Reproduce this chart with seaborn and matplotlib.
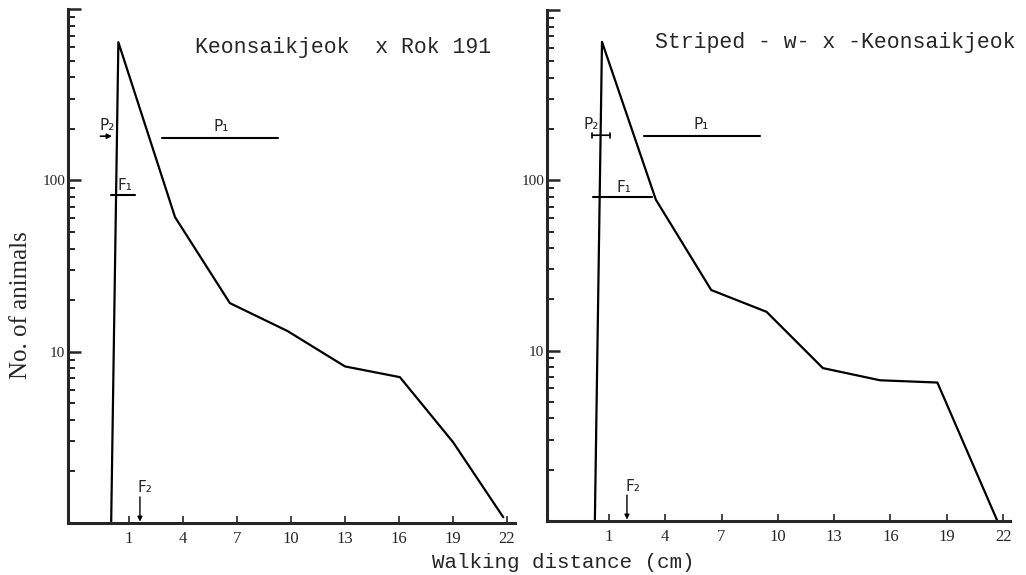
import matplotlib
matplotlib.use("Agg")
import matplotlib.pyplot as plt
import matplotlib.ticker as mticker
import numpy as np
import pandas as pd
import seaborn as sns

# ---- data ----
left_x = [0.0, 0.4, 3.55, 6.6, 9.8, 13.0, 16.05, 19.0, 21.8]
left_y = [1.0, 640, 61, 19.2, 13.2, 8.2, 7.1, 2.97, 1.08]
right_x = [0.25, 0.63, 3.5, 6.45, 9.4, 12.4, 15.45, 18.5, 21.7]
right_y = [1.0, 650, 77, 22.7, 16.9, 7.9, 6.7, 6.5, 1.0]

x_ticks = [1, 4, 7, 10, 13, 16, 19, 22]
y_ticks = [1, 10, 100, 1000]
y_tick_labels = ["", "10", "100", ""]

left_title = "Keonsaikjeok  x Rok 191"
right_title = "Striped - w- x -Keonsaikjeok"

# annotation levels / ranges (x0, x1, y) and label x positions
left_P2 = (-0.6, 0.05, 181)
left_P2_lx = -0.22
left_P1 = (2.85, 9.3, 177)
left_P1_lx = 6.1
left_F1 = (0.0, 1.3, 82)
left_F1_lx = 0.75
left_F2_x = 1.6
right_P2 = (0.1, 1.05, 184)
right_P2_lx = 0.04
right_P1 = (2.87, 9.05, 182)
right_P1_lx = 5.9
right_F1 = (0.15, 3.3, 80)
right_F1_lx = 1.8
right_F2_x = 1.96

sns.set_style("ticks")
plt.rcParams["font.family"] = ["Liberation Serif", "DejaVu Sans"]

fig = plt.figure(figsize=(10.26, 5.75), dpi=100)
W, H = 1026, 575
ax1 = fig.add_axes([68 / W, 1 - 523 / H, 447 / W, 514 / H])
ax2 = fig.add_axes([547 / W, 1 - 521 / H, 463 / W, 511 / H])

mono = ["Liberation Mono", "DejaVu Sans Mono"]
hand = ["DejaVu Sans"]


def setup(ax, xs, ys, xlim, title, tx, ty):
    df = pd.DataFrame({"x": xs, "y": ys})
    sns.lineplot(data=df, x="x", y="y", ax=ax, color="black", lw=1.6,
                 sort=False, estimator=None)
    ax.set_yscale("log")
    ax.set_ylim(1, 1000)
    ax.set_xlim(*xlim)
    ax.set_xlabel("")
    ax.set_ylabel("")
    ax.yaxis.set_major_locator(mticker.FixedLocator(y_ticks))
    ax.yaxis.set_major_formatter(mticker.FixedFormatter(y_tick_labels))
    ax.yaxis.set_minor_locator(mticker.LogLocator(base=10, subs=np.arange(2, 10)))
    ax.yaxis.set_minor_formatter(mticker.NullFormatter())
    ax.set_xticks(x_ticks)
    ax.set_xticklabels([str(v) for v in x_ticks])
    ax.tick_params(axis="y", which="major", direction="in", length=9, width=1.8,
                   labelsize=11, pad=2)
    ax.tick_params(axis="y", which="minor", direction="in", length=5, width=1.4)
    ax.tick_params(axis="x", which="major", direction="in", length=5, width=1.2,
                   labelsize=12, pad=6)
    for s in ["top", "right"]:
        ax.spines[s].set_visible(False)
    for s in ["left", "bottom"]:
        ax.spines[s].set_linewidth(2.2)
    ax.text(tx, ty, title, transform=ax.transAxes, family=mono, fontsize=15.5,
            ha="left", va="center")


setup(ax1, left_x, left_y, (-2.4, 22.45), left_title, 0.284, 0.926)
setup(ax2, right_x, right_y, (-2.3, 22.37), right_title, 0.233, 0.937)


def annots(ax, P2, P2lx, P1, P1lx, F1, F1lx, F2x, p2style):
    # P2
    ax.annotate("", xy=(P2[1], P2[2]), xytext=(P2[0], P2[2]),
                arrowprops=dict(arrowstyle=p2style, color="black", lw=1.2,
                                mutation_scale=7, shrinkA=0, shrinkB=0))
    ax.text(P2lx, P2[2] * 1.04, "P₂", family=hand,
            fontsize=11, ha="center", va="bottom")
    # P1
    ax.plot([P1[0], P1[1]], [P1[2], P1[2]], color="black", lw=1.5)
    ax.text(P1lx, P1[2] * 1.06, "P₁", family=hand,
            fontsize=11, ha="center", va="bottom")
    # F1
    ax.plot([F1[0], F1[1]], [F1[2], F1[2]], color="black", lw=1.5)
    ax.text(F1lx, F1[2] * 1.03, "F₁", family=hand,
            fontsize=11, ha="center", va="bottom")
    # F2
    ax.annotate("", xy=(F2x, 1.0), xytext=(F2x, 1.42),
                arrowprops=dict(arrowstyle="-|>", color="black", lw=1.0,
                                mutation_scale=7, shrinkA=0, shrinkB=1))
    ax.text(F2x + 0.3, 1.45, "F₂", family=hand, fontsize=11,
            ha="center", va="bottom")


annots(ax1, left_P2, left_P2_lx, left_P1, left_P1_lx, left_F1, left_F1_lx,
       left_F2_x, "-|>")
annots(ax2, right_P2, right_P2_lx, right_P1, right_P1_lx, right_F1, right_F1_lx,
       right_F2_x, "|-|, widthA=0.25, widthB=0.25")

fig.text(21 / W, 1 - 305 / H, "No. of animals", rotation=90, fontsize=18,
         ha="center", va="center", family=["Liberation Serif"])
fig.text(563 / W, 1 - 563 / H, "Walking distance (cm)", fontsize=15,
         ha="center", va="center", family=mono)

fig.savefig("out.png", dpi=100, facecolor="white")
